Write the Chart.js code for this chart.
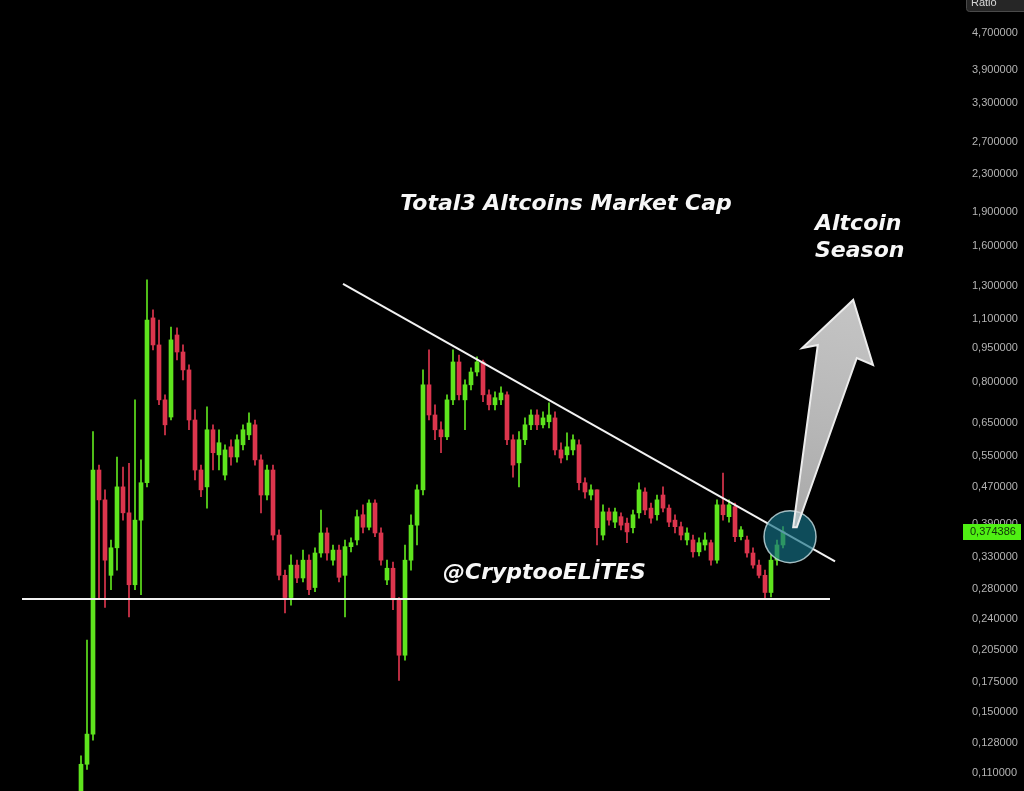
<!DOCTYPE html>
<html lang="en">
<head>
<meta charset="UTF-8">
<title>Total3 Altcoins Market Cap</title>
<style>
  html, body { margin: 0; padding: 0; background: #000; }
  #chart { display: block; }
</style>
</head>
<body>
<canvas id="chart" width="1024" height="791"></canvas>
<script src="https://cdn.jsdelivr.net/npm/chart.js"></script>
<script>
// candle values (ratio), oldest first
const opens = [0.096,0.115,0.134,0.512,0.440,0.300,0.345,0.470,0.412,0.286,
  0.397,0.480,1.108,0.966,0.731,0.670,1.016,0.932,0.851,0.660,
  0.512,0.470,0.628,0.553,0.499,0.576,0.547,0.582,0.612,0.644,
  0.539,0.451,0.512,0.368,0.300,0.268,0.316,0.296,0.324,0.282,
  0.336,0.372,0.324,0.341,0.300,0.347,0.359,0.408,0.383,0.433,
  0.372,0.293,0.311,0.265,0.200,0.324,0.387,0.463,0.789,0.677,
  0.628,0.606,0.731,0.886,0.731,0.789,0.842,0.886,0.750,0.713,
  0.731,0.750,0.597,0.531,0.597,0.644,0.677,0.644,0.654,0.667,
  0.567,0.553,0.567,0.582,0.480,0.451,0.463,0.368,0.414,0.393,
  0.404,0.391,0.382,0.412,0.458,0.422,0.408,0.451,0.422,0.397,
  0.384,0.359,0.359,0.338,0.350,0.354,0.324,0.429,0.404,0.425,
  0.365,0.359,0.336,0.316,0.300,0.275,0.324,0.350];
const highs = [0.120,0.216,0.622,0.525,0.463,0.359,0.547,0.520,0.530,0.731,
  0.539,1.344,1.154,1.096,0.750,1.058,1.053,0.966,0.873,0.695,
  0.525,0.706,0.644,0.628,0.582,0.597,0.612,0.644,0.684,0.660,
  0.553,0.525,0.525,0.378,0.308,0.333,0.324,0.341,0.333,0.345,
  0.418,0.382,0.350,0.350,0.359,0.363,0.418,0.429,0.440,0.440,
  0.382,0.324,0.321,0.268,0.350,0.408,0.475,0.851,0.942,0.713,
  0.654,0.750,0.942,0.918,0.809,0.860,0.909,0.895,0.769,0.761,
  0.781,0.761,0.612,0.622,0.667,0.695,0.695,0.688,0.720,0.688,
  0.588,0.618,0.612,0.597,0.492,0.475,0.463,0.429,0.422,0.422,
  0.412,0.401,0.418,0.480,0.468,0.433,0.451,0.470,0.429,0.408,
  0.393,0.382,0.368,0.363,0.372,0.359,0.440,0.504,0.440,0.433,
  0.384,0.366,0.345,0.324,0.308,0.333,0.359,0.384];
const lows = [0.094,0.112,0.130,0.265,0.255,0.279,0.308,0.397,0.243,0.279,
  0.272,0.470,0.942,0.713,0.612,0.660,0.895,0.809,0.628,0.487,
  0.447,0.422,0.512,0.512,0.487,0.525,0.533,0.567,0.597,0.525,
  0.412,0.440,0.359,0.293,0.248,0.258,0.289,0.290,0.272,0.276,
  0.329,0.324,0.316,0.290,0.243,0.338,0.350,0.372,0.378,0.365,
  0.316,0.286,0.252,0.176,0.195,0.308,0.350,0.451,0.660,0.597,
  0.559,0.597,0.713,0.731,0.628,0.769,0.825,0.724,0.695,0.695,
  0.713,0.582,0.494,0.470,0.582,0.628,0.628,0.634,0.634,0.553,
  0.531,0.539,0.553,0.463,0.444,0.440,0.350,0.359,0.387,0.382,
  0.378,0.354,0.372,0.401,0.408,0.391,0.397,0.414,0.384,0.372,
  0.359,0.350,0.329,0.331,0.341,0.316,0.319,0.397,0.393,0.356,
  0.359,0.329,0.311,0.296,0.268,0.269,0.316,0.345];
const closes = [0.115,0.134,0.512,0.440,0.324,0.345,0.470,0.412,0.286,0.397,
  0.480,1.096,0.966,0.731,0.644,0.991,0.932,0.851,0.660,0.512,
  0.463,0.628,0.559,0.588,0.567,0.547,0.597,0.628,0.650,0.539,
  0.451,0.512,0.368,0.300,0.268,0.316,0.296,0.324,0.279,0.336,
  0.372,0.336,0.341,0.297,0.347,0.354,0.404,0.383,0.433,0.372,
  0.324,0.311,0.265,0.200,0.324,0.387,0.463,0.789,0.677,0.628,
  0.606,0.731,0.886,0.750,0.789,0.842,0.886,0.750,0.713,0.739,
  0.757,0.597,0.525,0.597,0.644,0.677,0.644,0.667,0.677,0.567,
  0.544,0.576,0.597,0.480,0.458,0.463,0.382,0.414,0.397,0.414,
  0.387,0.374,0.408,0.463,0.418,0.401,0.440,0.422,0.393,0.384,
  0.368,0.372,0.338,0.354,0.359,0.324,0.429,0.408,0.429,0.365,
  0.378,0.336,0.316,0.300,0.275,0.324,0.350,0.374386];

// price axis labels
const tickValues = [4.7,3.9,3.3,2.7,2.3,1.9,1.6,1.3,1.1,0.95,0.8,0.65,0.55,0.47,0.39,0.33,0.28,0.24,0.205,0.175,0.15,0.128,0.11];

// drawings, in candle index / price units
const supportLine = [[-9.83, 0.266], [124.83, 0.266]];
const trendLine = [[43.67, 1.317], [125.67, 0.322]];
const breakout = [118.17, 0.365];
const arrowShape = [[118.7,0.383],[122.8,0.966],[120.2,0.951],[128.7,1.214],[132.0,0.873],[129.3,0.904],[119.3,0.383]];

const GREEN = '#5fe41e';
const RED = '#dc364e';
const colors = closes.map((c, i) => c >= opens[i] ? GREEN : RED);
const wicks = closes.map((c, i) => ({ x: i, y: [lows[i], highs[i]] }));
const bodies = closes.map((c, i) => ({ x: i, y: [Math.min(opens[i], c), Math.max(opens[i], c)] }));

const fmt = v => v.toFixed(6).replace('.', ',');

const overlay = {
  id: 'overlay',
  afterDatasetsDraw(chart) {
    const ctx = chart.ctx, xs = chart.scales.x, ys = chart.scales.y;
    const px = p => [xs.getPixelForValue(p[0]), ys.getPixelForValue(p[1])];
    ctx.save();
    // lines
    ctx.strokeStyle = '#f2f2f2';
    ctx.lineWidth = 2;
    [supportLine, trendLine].forEach(l => {
      const a = px(l[0]), b = px(l[1]);
      ctx.beginPath();
      ctx.moveTo(a[0], a[1]);
      ctx.lineTo(b[0], b[1]);
      ctx.stroke();
    });
    // breakout circle
    const c = px(breakout);
    ctx.beginPath();
    ctx.arc(c[0], c[1], 26, 0, Math.PI * 2);
    ctx.fillStyle = 'rgba(20,112,132,0.68)';
    ctx.fill();
    ctx.lineWidth = 1.5;
    ctx.strokeStyle = 'rgba(190,215,220,0.85)';
    ctx.stroke();
    // arrow
    ctx.beginPath();
    arrowShape.forEach((p, i) => {
      const q = px(p);
      if (i === 0) ctx.moveTo(q[0], q[1]); else ctx.lineTo(q[0], q[1]);
    });
    ctx.closePath();
    const g = ctx.createLinearGradient(795, 525, 855, 300);
    g.addColorStop(0, 'rgba(225,225,225,0.75)');
    g.addColorStop(1, '#c4c4c4');
    ctx.fillStyle = g;
    ctx.fill();
    ctx.lineJoin = 'miter';
    ctx.lineWidth = 2;
    ctx.strokeStyle = '#ececec';
    ctx.stroke();
    // texts
    ctx.fillStyle = '#f7f7f7';
    ctx.font = 'italic bold 22px "DejaVu Sans"';
    ctx.textBaseline = 'middle';
    ctx.shadowColor = 'rgba(0,0,0,0.8)';
    ctx.shadowBlur = 3;
    ctx.textAlign = 'center';
    ctx.fillText('Total3 Altcoins Market Cap', 566, 204);
    ctx.textAlign = 'left';
    ctx.fillText('Altcoin', 815, 224);
    ctx.fillText('Season', 815, 251);
    ctx.fillText('@CryptooELİTES', 443, 573);
    ctx.restore();
  },
  afterDraw(chart) {
    const ctx = chart.ctx, ys = chart.scales.y;
    const last = closes[closes.length - 1];
    const y = ys.getPixelForValue(last);
    ctx.save();
    ctx.fillStyle = '#4ff013';
    ctx.fillRect(963, Math.round(y) - 8, 58, 16);
    ctx.fillStyle = '#10300a';
    ctx.font = '11px "Liberation Sans"';
    ctx.textBaseline = 'middle';
    ctx.textAlign = 'left';
    ctx.fillText(fmt(last), 970, Math.round(y));
    // scale mode box
    ctx.fillStyle = '#262626';
    ctx.strokeStyle = '#4a4a4a';
    ctx.lineWidth = 1;
    ctx.beginPath();
    ctx.roundRect(966.5, -6.5, 64, 18, 3);
    ctx.fill();
    ctx.stroke();
    ctx.fillStyle = '#d8d8d8';
    ctx.fillText('Ratio', 971, 3);
    ctx.restore();
  }
};

new Chart(document.getElementById('chart'), {
  type: 'bar',
  data: {
    datasets: [
      { data: wicks, backgroundColor: colors, barThickness: 1, grouped: false, borderWidth: 0 },
      { data: bodies, backgroundColor: colors, barThickness: 4, grouped: false, borderWidth: 0, minBarLength: 1 }
    ]
  },
  options: {
    responsive: false,
    devicePixelRatio: 1,
    animation: false,
    layout: { padding: 0 },
    plugins: { legend: { display: false }, tooltip: { enabled: false } },
    scales: {
      x: { type: 'linear', display: false, offset: false, min: -13.5, max: 146.8333 },
      y: {
        type: 'logarithmic',
        position: 'right',
        min: 0.1004,
        max: 5.563,
        bounds: 'data',
        grid: { display: false, drawTicks: false },
        border: { display: false },
        ticks: {
          color: '#b4b4b4',
          padding: 10,
          font: { family: 'Liberation Sans', size: 11 },
          callback: v => fmt(v)
        },
        afterBuildTicks: s => { s.ticks = tickValues.map(v => ({ value: v })); },
        afterFit: s => { s.width = 62; s.paddingTop = 0; s.paddingBottom = 0; }
      }
    }
  },
  plugins: [overlay]
});
</script>
</body>
</html>
